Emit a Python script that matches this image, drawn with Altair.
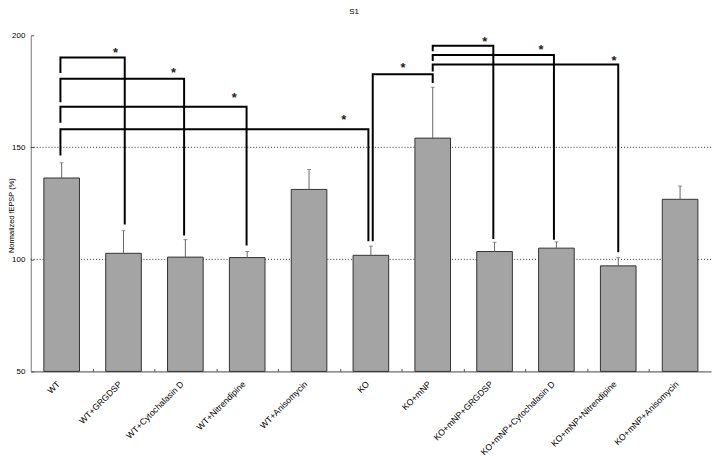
import altair as alt
import pandas as pd

# ---------------- data ----------------
categories = ["WT", "WT+GRGDSP", "WT+Cytochalasin D", "WT+Nitrendipine", "WT+Anisomycin",
              "KO", "KO+mNP", "KO+mNP+GRGDSP", "KO+mNP+Cytochalasin D",
              "KO+mNP+Nitrendipine", "KO+mNP+Anisomycin"]
means = [136.3, 102.7, 101.0, 100.8, 131.2, 101.8, 154.1, 103.5, 105.0, 97.1, 126.8]
upper = [143.1, 112.8, 108.8, 103.5, 140.1, 105.9, 176.8, 107.6, 107.8, 100.8, 132.7]

y_ticks = [50, 100, 150, 200]
grid_values = [100, 150]
x_boundaries = [0.5, 1.5, 2.5, 3.5, 4.5, 5.5, 6.5, 7.5, 8.5, 9.5]

# significance brackets (x in category-index units)
br_x1 = [-0.02, -0.02, -0.02, -0.02, 5.03, 6.0, 6.0, 6.0]
br_x2 = [1.02, 1.98, 2.99, 4.96, 6.0, 6.98, 7.96, 9.0]
br_top = [190.1, 180.6, 168.1, 158.1, 182.6, 195.3, 191.2, 186.9]
br_left_bottom = [183.1, 170.1, 161.0, 146.3, 108.1, 192.9, 188.5, 183.8]
br_right_bottom = [115.5, 110.6, 106.2, 108.1, 178.7, 109.1, 108.8, 103.2]

star_x = [0.87, 1.81, 2.79, 4.56, 5.52, 6.84, 7.75, 8.93]
star_y = [193.4, 184.3, 173.5, 163.5, 186.8, 198.2, 194.5, 190.0]

# ---------------- tables ----------------
bars_df = pd.DataFrame({"cat": categories, "mean": means, "upper": upper})
grid_df = pd.DataFrame({"v": grid_values})
rows = []
for i in range(len(br_x1)):
    rows += [
        {"id": i, "o": 0, "x": br_x1[i], "y": br_left_bottom[i]},
        {"id": i, "o": 1, "x": br_x1[i], "y": br_top[i]},
        {"id": i, "o": 2, "x": br_x2[i], "y": br_top[i]},
        {"id": i, "o": 3, "x": br_x2[i], "y": br_right_bottom[i]},
    ]
br_df = pd.DataFrame(rows)
star_df = pd.DataFrame({"x": star_x, "y": star_y})

W, H = 688, 340
FONT = "Liberation Sans"

y_scale = alt.Scale(domain=[50, 200], nice=False, zero=False)
y_axis_main = alt.Axis(
    title="Normalized fEPSP (%)", values=y_ticks, ticks=False, grid=False,
    domainColor="#777", labelFont=FONT, labelFontSize=8, labelColor="black",
    labelPadding=6, titleFont=FONT, titleFontSize=7.5, titleFontWeight="normal",
    titleColor="black", titleAngle=270, titleX=-19, titleY=182,
    titleAlign="center", titleBaseline="middle")
y_axis_ticks = alt.Axis(orient="right", offset=-W, values=y_ticks, labels=False,
                        domain=False, grid=False, tickSize=3, tickColor="#555", title=None)

x_band = alt.X("cat:N", sort=categories,
               scale=alt.Scale(paddingInner=0.424, paddingOuter=0.212),
               axis=alt.Axis(title=None, labelAngle=-45, labelAlign="right",
                             labelBaseline="top", labelOffset=-6, labelPadding=8,
                             ticks=False, grid=False, domainColor="#444",
                             labelFont=FONT, labelFontSize=8.8, labelColor="black",
                             labelLimit=0))
x_lin_scale = alt.Scale(domain=[-0.5, 10.5], nice=False, zero=False)
x_axis_ticks = alt.Axis(orient="top", offset=-H, values=x_boundaries, labels=False,
                        domain=False, grid=False, tickSize=3, tickColor="#555", title=None)

grid = alt.Chart(grid_df).mark_rule(strokeDash=[1, 2], color="#333", strokeWidth=1).encode(
    y=alt.Y("v:Q", scale=y_scale, axis=y_axis_main),
    x=alt.value(0), x2=alt.value(W))

bars = alt.Chart(bars_df).mark_bar(color="#a4a4a4", stroke="#333", strokeWidth=1).encode(
    x=x_band,
    y=alt.Y("mean:Q", scale=y_scale, axis=y_axis_main),
    y2=alt.datum(50))

whisk = alt.Chart(bars_df).mark_rule(color="#666", strokeWidth=1).encode(
    x=x_band,
    y=alt.Y("mean:Q", scale=y_scale, axis=y_axis_main),
    y2="upper:Q")

cap = alt.Chart(bars_df).mark_tick(color="#666", thickness=1, size=4).encode(
    x=x_band,
    y=alt.Y("upper:Q", scale=y_scale, axis=y_axis_main))

left = alt.layer(grid, bars, whisk, cap)

lines = alt.Chart(br_df).mark_line(color="black", strokeWidth=2, strokeJoin="miter",
                                   strokeCap="butt").encode(
    x=alt.X("x:Q", scale=x_lin_scale, axis=x_axis_ticks),
    y=alt.Y("y:Q", scale=y_scale, axis=y_axis_ticks),
    detail="id:N", order="o:Q")

stars = alt.Chart(star_df).mark_text(text="*", fontSize=13, fontWeight="bold", dy=7,
                                     font=FONT, baseline="alphabetic", color="#222").encode(
    x=alt.X("x:Q", scale=x_lin_scale, axis=x_axis_ticks),
    y=alt.Y("y:Q", scale=y_scale, axis=y_axis_ticks))

right = alt.layer(lines, stars)

chart = alt.layer(left, right).resolve_scale(x="independent", y="independent").properties(
    width=W, height=H,
    title=alt.TitleParams("S1", fontSize=8, font=FONT, fontWeight="normal", anchor="middle",
                          dx=-17, offset=9, baseline="alphabetic", color="black"),
    padding={"left": 23, "top": 25, "right": 1, "bottom": 84},
    autosize=alt.AutoSizeParams(type="none"),
).configure_view(stroke=None)

chart.save("out.html", embed_options={"renderer": "svg", "actions": False})
